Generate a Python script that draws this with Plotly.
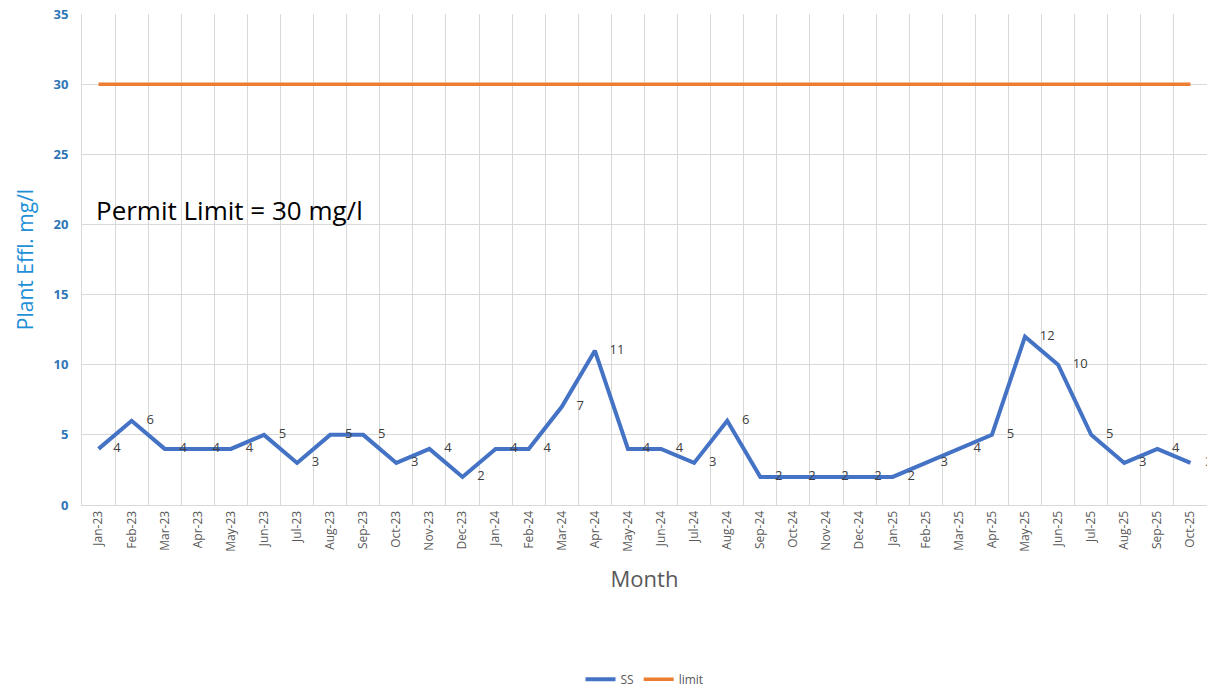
import plotly.graph_objects as go

months = ["Jan-23","Feb-23","Mar-23","Apr-23","May-23","Jun-23","Jul-23","Aug-23","Sep-23","Oct-23","Nov-23","Dec-23",
          "Jan-24","Feb-24","Mar-24","Apr-24","May-24","Jun-24","Jul-24","Aug-24","Sep-24","Oct-24","Nov-24","Dec-24",
          "Jan-25","Feb-25","Mar-25","Apr-25","May-25","Jun-25","Jul-25","Aug-25","Sep-25","Oct-25"]
ss = [4,6,4,4,4,5,3,5,5,3,4,2,
      4,4,7,11,4,4,3,6,2,2,2,2,
      2,3,4,5,12,10,5,3,4,3]
limit = [30]*len(months)
y_ticks = [0,5,10,15,20,25,30,35]

FONT = "Open Sans, Liberation Sans, sans-serif"

fig = go.Figure()
fig.add_trace(go.Scatter(x=months, y=ss, mode="lines+markers+text", name="SS",
                         line=dict(color="#4472C4", width=4),
                         marker=dict(size=22, color="rgba(0,0,0,0)"),
                         text=[str(v) for v in ss], textposition="middle right",
                         textfont=dict(family=FONT, size=13, color="#404040")))
fig.add_trace(go.Scatter(x=months, y=limit, mode="lines", name="limit",
                         line=dict(color="#ED7D31", width=3.5)))

fig.add_annotation(x=0.011, xref="paper", y=21, yref="y", text="Permit Limit = 30 mg/l",
                   showarrow=False, xanchor="left", yanchor="middle",
                   font=dict(family=FONT, size=26, color="#000000"))

fig.update_layout(
    width=1209, height=691,
    paper_bgcolor="white", plot_bgcolor="white",
    margin=dict(l=82, r=2, t=14, b=186),
    showlegend=True,
    legend=dict(orientation="h", x=0.5, xanchor="center", yref="container", y=0.017, yanchor="middle",
                font=dict(family=FONT, size=12, color="#595959")),
    font=dict(family=FONT),
)
fig.update_xaxes(type="category", range=[-0.5, len(months)-0.5], tickson="boundaries",
                 automargin=False,
                 showgrid=True, gridcolor="#D9D9D9", gridwidth=1,
                 tickangle=-90, ticks="outside", ticklen=9, tickcolor="rgba(0,0,0,0)",
                 tickfont=dict(size=12, color="#595959"),
                 showline=True, linecolor="#D9D9D9", mirror=False,
                 title=dict(text="Month", font=dict(size=22, color="#595959"), standoff=20))
fig.update_yaxes(range=[0, 35], tickvals=y_ticks, showgrid=True, gridcolor="#D9D9D9", gridwidth=1,
                 automargin=False,
                 zeroline=False, showline=True, linecolor="#D9D9D9",
                 ticks="outside", ticklen=10, tickcolor="rgba(0,0,0,0)",
                 tickfont=dict(size=13, color="#2E75B6", family=FONT, weight="bold"),
                 title=dict(text="Plant Effl. mg/l", font=dict(size=21, color="#1F8FD6"), standoff=14))

fig.write_html("out.html", config={"displayModeBar": False},
               post_script="document.body.style.margin='0';")
